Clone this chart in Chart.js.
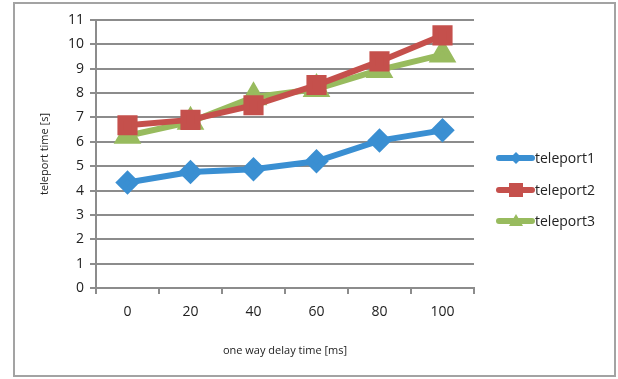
<!DOCTYPE html>
<html>
<head>
<meta charset="utf-8">
<script src="https://cdn.jsdelivr.net/npm/chart.js@4/dist/chart.umd.min.js"></script>
<style>
  html, body { margin: 0; padding: 0; background: #fff; }
  #wrap { width: 618px; height: 379px; position: relative; }
</style>
</head>
<body>
<div id="wrap"><canvas id="myChart" width="618" height="379"></canvas></div>
<script>
// delay values on the x axis (ms)
const delays = ['0', '20', '40', '60', '80', '100'];
// teleport times in seconds
const teleport1 = [4.33, 4.76, 4.87, 5.2, 6.05, 6.47];
const teleport2 = [6.68, 6.9, 7.5, 8.33, 9.3, 10.37];
const teleport3 = [6.25, 6.82, 7.83, 8.17, 8.95, 9.58];
const yTicks = [0, 1, 2, 3, 4, 5, 6, 7, 8, 9, 10, 11];

const blue = '#3a8fd2';
const red = '#c5504c';
const green = '#98bb5e';
const fontName = "'Open Sans', 'Noto Sans', sans-serif";

/* frame round the whole chart + legend drawn by hand */
const framePlugin = {
    id: 'frame',
    beforeDraw(chart) {
        const c = chart.ctx;
        c.save();
        c.strokeStyle = '#a3a3a3';
        c.lineWidth = 2;
        c.strokeRect(14, 3, 601, 373);
        c.restore();
    },
    afterDraw(chart) {
        const c = chart.ctx;
        const ys = [158, 190, 221];
        c.save();
        chart.data.datasets.forEach((ds, i) => {
            const y = ys[i];
            c.strokeStyle = ds.borderColor;
            c.lineWidth = 6;
            c.lineCap = 'round';
            c.beginPath();
            c.moveTo(499, y);
            c.lineTo(532, y);
            c.stroke();
            c.fillStyle = ds.borderColor;
            c.beginPath();
            if (ds.pointStyle === 'rectRot') {
                c.moveTo(516, y - 6); c.lineTo(522, y); c.lineTo(516, y + 6); c.lineTo(510, y);
            } else if (ds.pointStyle === 'rect') {
                c.rect(509, y - 7, 14, 14);
            } else {
                c.moveTo(516, y - 7); c.lineTo(523, y + 5); c.lineTo(509, y + 5);
            }
            c.closePath();
            c.fill();
            c.fillStyle = '#222';
            c.font = '14px ' + fontName;
            c.textBaseline = 'middle';
            c.fillText(ds.label, 535, y + 1);
        });
        c.restore();
    }
};

const ctx = document.getElementById('myChart').getContext('2d');
const myChart = new Chart(ctx, {
    type: 'line',
    data: {
        labels: delays,
        datasets: [
            { label: 'teleport1', data: teleport1, borderColor: blue, backgroundColor: blue,
              pointStyle: 'rectRot', pointRadius: 8, borderWidth: 6 },
            { label: 'teleport2', data: teleport2, borderColor: red, backgroundColor: red,
              pointStyle: 'rect', pointRadius: 10, borderWidth: 6 },
            { label: 'teleport3', data: teleport3, borderColor: green, backgroundColor: green,
              pointStyle: 'triangle', pointRadius: 10, borderWidth: 6 }
        ]
    },
    options: {
        responsive: false,
        animation: false,
        layout: { padding: { left: 0, top: 20, right: 144, bottom: 0 } },
        plugins: {
            legend: { display: false },
            tooltip: { enabled: false }
        },
        scales: {
            x: {
                offset: true,
                grid: { offset: true, drawOnChartArea: false, color: '#8c8c8c', lineWidth: 2, tickLength: 6 },
                border: { color: '#8c8c8c', width: 2 },
                ticks: { color: '#222', font: { family: fontName, size: 14 }, padding: 10 },
                title: { display: true, text: 'one way delay time [ms]', color: '#222',
                         font: { family: fontName, size: 11 }, padding: { top: 10, bottom: 22 } },
                afterFit(scale) { scale.height = 91; }
            },
            y: {
                min: 0,
                max: 11,
                afterBuildTicks(scale) { scale.ticks = yTicks.map(v => ({ value: v })); },
                grid: { color: '#8c8c8c', lineWidth: 2, tickLength: 6 },
                border: { color: '#8c8c8c', width: 2 },
                ticks: { color: '#222', font: { family: fontName, size: 14 }, padding: 6 },
                title: { display: true, text: 'teleport time [s]', color: '#222',
                         font: { family: fontName, size: 11 }, padding: { top: 38 } },
                afterFit(scale) { scale.width = 96; }
            }
        }
    },
    plugins: [framePlugin]
});
</script>
</body>
</html>
